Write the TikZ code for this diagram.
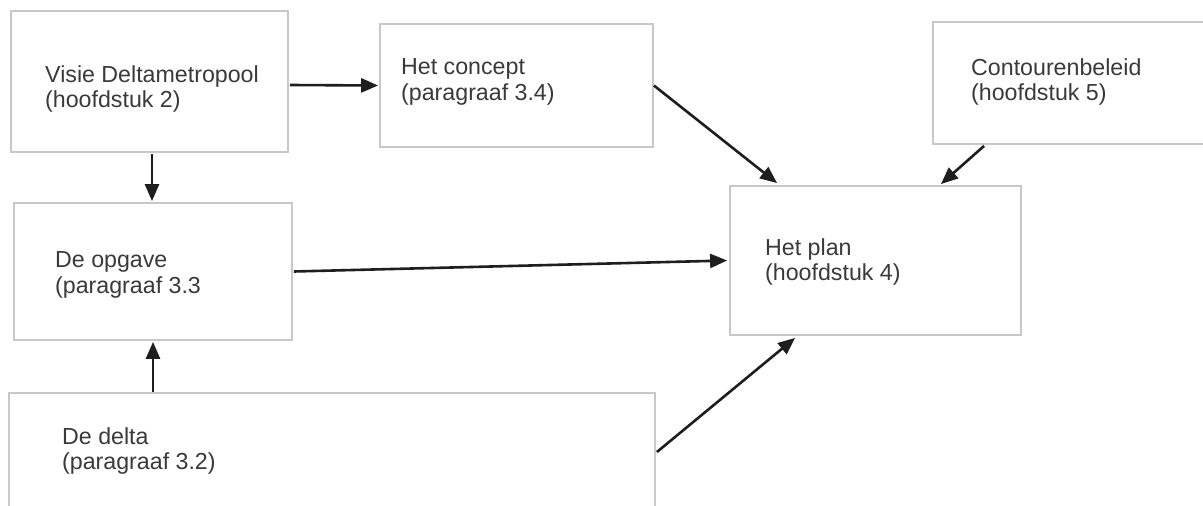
\documentclass[tikz,border=0pt]{standalone}
\usepackage{fontspec}
\setmainfont{Liberation Sans}
\usetikzlibrary{arrows.meta}
\definecolor{boxline}{HTML}{C8C8C8}
\definecolor{txt}{HTML}{3A3A3A}
\definecolor{arr}{HTML}{1E1E1E}
\tikzset{
  box/.style={draw=boxline, line width=1.8pt, rectangle, inner sep=0pt, fill=white},
  lbl/.style={anchor=west, align=left, inner sep=0pt, text=txt, font=\fontsize{23.2}{25.5}\selectfont},
  conn/.style={draw=arr, line width=2.6pt, -{Triangle[length=17pt,width=14pt]}}
}
\begin{document}
\begin{tikzpicture}[x=1pt,y=-1pt]
\useasboundingbox (0,0) rectangle (1203,506);
\fill[white] (0,0) rectangle (1203,506);
\begin{scope}
\clip (0,0) rectangle (1203,506);
% boxes
\node[box, minimum width=277pt, minimum height=141pt] (visie) at (149.5,81.5) {};
\node[box, minimum width=278pt, minimum height=137pt] (opgave) at (153,271.5) {};
\node[box, minimum width=646pt, minimum height=127pt] (delta) at (332,456.5) {};
\node[box, minimum width=273pt, minimum height=123pt] (concept) at (516.5,85.5) {};
\node[box, minimum width=277pt, minimum height=122pt] (contour) at (1071.5,83) {};
\node[box, minimum width=291pt, minimum height=149pt] (plan) at (875.5,260.5) {};
\end{scope}
% labels
\node[lbl] (tvisie) at (45,89) {Visie Deltametropool\\(hoofdstuk 2)};
\node[lbl] (topgave) at (55,275) {De opgave\\(paragraaf 3.3};
\node[lbl] (tdelta) at (62,451) {De delta\\(paragraaf 3.2)};
\node[lbl] (tconcept) at (401,82) {Het concept\\(paragraaf 3.4)};
\node[lbl] (tcontour) at (971,82) {Contourenbeleid\\(hoofdstuk 5)};
\node[lbl] (tplan) at (765,262) {Het plan\\(hoofdstuk 4)};
% connectors
\draw[conn] ([xshift=1pt,yshift=-3.5pt]visie.east) -- ([xshift=-1pt]concept.west);
\draw[conn] ([xshift=2.5pt,yshift=-1pt]visie.south) -- ([xshift=-1pt,yshift=1pt]opgave.north);
\draw[conn] (delta.north west -| opgave.south) -- ([yshift=-1pt]opgave.south);
\draw[conn] ([xshift=1pt]opgave.east) -- ([xshift=-2pt]plan.west);
\draw[conn] (concept.east) -- ([xshift=48pt,yshift=2pt]plan.north west);
\draw[conn] ([xshift=52pt,yshift=-1pt]contour.south west) -- ([xshift=-81pt,yshift=1pt]plan.north east);
\draw[conn] ([xshift=1pt,yshift=4.5pt]delta.east) -- ([xshift=66pt,yshift=-2pt]plan.south west);
\end{tikzpicture}
\end{document}
